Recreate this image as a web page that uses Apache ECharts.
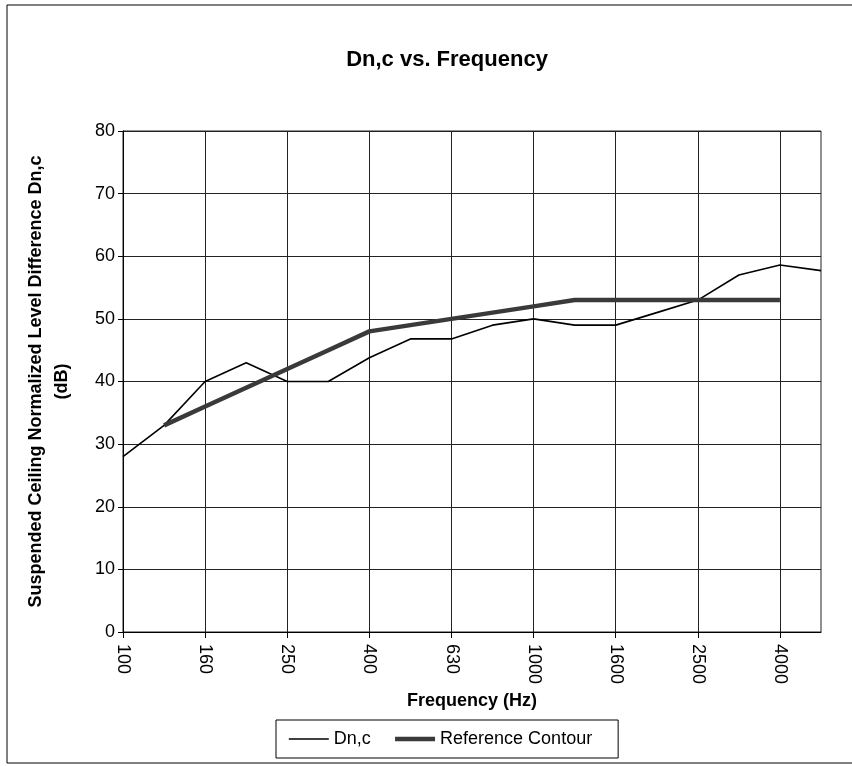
<!DOCTYPE html>
<html>
<head>
<meta charset="utf-8">
<script src="https://cdn.jsdelivr.net/npm/echarts@6/dist/echarts.min.js"></script>
<style>
  html, body { margin: 0; padding: 0; background: #fff; }
  #chart { width: 852px; height: 766px; }
</style>
</head>
<body>
<div id="chart"></div>
<script>
var frequencies = ['100', '125', '160', '200', '250', '315', '400', '500', '630', '800',
  '1000', '1250', '1600', '2000', '2500', '3150', '4000', '5000'];
var dnc = [28, 33, 40, 43, 40, 40, 43.8, 46.8, 46.8, 49, 50, 49, 49, 51, 53, 57, 58.6, 57.7];
var referenceContour = ['-', 33, 36, 39, 42, 45, 48, 49, 50, 51, 52, 53, 53, 53, 53, 53, 53, '-'];
var yTicks = [0, 80, 10]; // min, max, step

var font = 'Liberation Sans, Arial, sans-serif';
var myChart = echarts.init(document.getElementById('chart'));
var option = {
  backgroundColor: '#fff',
  animation: false,
  title: {
    text: 'Dn,c vs. Frequency',
    left: 442,
    textAlign: 'center',
    top: 44,
    textStyle: { fontFamily: font, fontSize: 22, fontWeight: 'bold', color: '#000' }
  },
  legend: {
    bottom: 8,
    left: 276,
    itemWidth: 40,
    itemGap: 22,
    padding: [10, 26, 10, 12],
    borderColor: '#000',
    borderWidth: 1,
    borderRadius: 0,
    itemStyle: { opacity: 0 },
    textStyle: { fontFamily: font, fontSize: 18, color: '#000' },
    data: [
      { name: 'Dn,c', lineStyle: { color: '#000', width: 1.6 } },
      { name: 'Reference Contour', lineStyle: { color: '#3a3a3a', width: 4.5 } }
    ]
  },
  grid: {
    left: 123,
    right: 31,
    top: 131,
    bottom: 134,
    show: true,
    borderColor: '#222',
    borderWidth: 1
  },
  xAxis: {
    type: 'category',
    boundaryGap: false,
    data: frequencies,
    name: 'Frequency (Hz)',
    nameLocation: 'middle',
    nameGap: 54,
    nameTextStyle: { fontFamily: font, fontSize: 18, fontWeight: 'bold', color: '#000' },
    axisLine: { lineStyle: { color: '#000' } },
    axisTick: { show: true, interval: 1, length: 6, lineStyle: { color: '#000' } },
    axisLabel: {
      interval: 1,
      rotate: -90,
      margin: 12,
      fontFamily: font,
      fontSize: 18,
      color: '#000'
    },
    splitLine: { show: true, interval: 1, lineStyle: { color: '#222', width: 1 } }
  },
  yAxis: {
    type: 'value',
    min: yTicks[0],
    max: yTicks[1],
    interval: yTicks[2],
    name: 'Suspended Ceiling Normalized Level Difference Dn,c\n(dB)',
    nameLocation: 'middle',
    nameRotate: 90,
    nameGap: 48,
    nameTextStyle: { fontFamily: font, fontSize: 18, fontWeight: 'bold', color: '#000', lineHeight: 26 },
    axisLine: { show: true, lineStyle: { color: '#000' } },
    axisTick: { show: true, length: 5, lineStyle: { color: '#000' } },
    axisLabel: { fontFamily: font, fontSize: 18, color: '#000', margin: 8 },
    splitLine: { show: true, lineStyle: { color: '#222', width: 1 } }
  },
  graphic: [{
    type: 'rect',
    shape: { x: 7, y: 5, width: 900, height: 758 },
    style: { fill: 'none', stroke: '#000', lineWidth: 1 },
    silent: true
  }],
  series: [
    {
      name: 'Dn,c',
      type: 'line',
      data: dnc,
      symbol: 'none',
      lineStyle: { color: '#000', width: 1.6 },
      itemStyle: { color: '#000' }
    },
    {
      name: 'Reference Contour',
      type: 'line',
      data: referenceContour,
      symbol: 'none',
      lineStyle: { color: '#3a3a3a', width: 4.5 },
      itemStyle: { color: '#3a3a3a' }
    }
  ]
};
myChart.setOption(option);
</script>
</body>
</html>
